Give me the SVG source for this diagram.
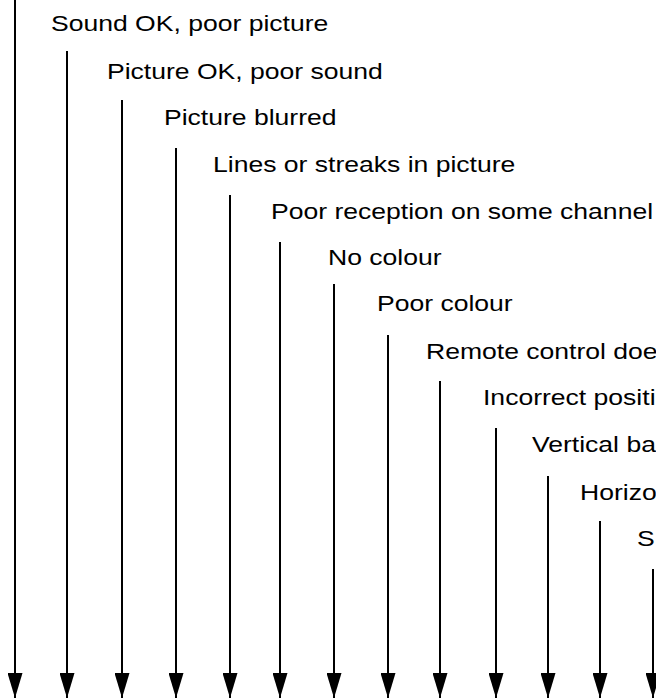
<svg xmlns="http://www.w3.org/2000/svg" width="656" height="699" viewBox="0 0 656 699">
<style>
.lbl{font-family:"Liberation Sans",Arial,Helvetica,sans-serif;font-size:22.5px;fill:#000}
.ln{stroke:#000;stroke-width:2;fill:none;marker-end:url(#ah)}
</style>
<defs>
<marker id="ah" markerUnits="userSpaceOnUse" viewBox="0 0 25 15" refX="25" refY="7.5" markerWidth="25" markerHeight="15" orient="auto">
<path d="M0,0 L25,7.5 L0,15 z" fill="#000"/>
</marker>
</defs>
<rect width="656" height="699" fill="#fff"/>
<g id="connectors">
<line class="ln" x1="15" y1="0" x2="15" y2="698"/>
<line class="ln" x1="67" y1="51" x2="67" y2="698"/>
<line class="ln" x1="122" y1="100" x2="122" y2="698"/>
<line class="ln" x1="176" y1="148" x2="176" y2="698"/>
<line class="ln" x1="230" y1="195" x2="230" y2="698"/>
<line class="ln" x1="280" y1="242" x2="280" y2="698"/>
<line class="ln" x1="334" y1="284" x2="334" y2="698"/>
<line class="ln" x1="388" y1="335" x2="388" y2="698"/>
<line class="ln" x1="440" y1="381" x2="440" y2="698"/>
<line class="ln" x1="496" y1="428" x2="496" y2="698"/>
<line class="ln" x1="548" y1="476" x2="548" y2="698"/>
<line class="ln" x1="600" y1="521" x2="600" y2="698"/>
<line class="ln" x1="653" y1="569" x2="653" y2="698"/>
</g>
<g id="n1"><text class="lbl" transform="translate(51,31) scale(1.18,1)">Sound OK, poor picture</text></g>
<g id="n2"><text class="lbl" transform="translate(107,79) scale(1.18,1)">Picture OK, poor sound</text></g>
<g id="n3"><text class="lbl" transform="translate(164,125) scale(1.18,1)">Picture blurred</text></g>
<g id="n4"><text class="lbl" transform="translate(213,172) scale(1.18,1)">Lines or streaks in picture</text></g>
<g id="n5"><text class="lbl" transform="translate(271,219) scale(1.18,1)">Poor reception on some channel</text></g>
<g id="n6"><text class="lbl" transform="translate(328,265) scale(1.18,1)">No colour</text></g>
<g id="n7"><text class="lbl" transform="translate(377,311) scale(1.18,1)">Poor colour</text></g>
<g id="n8"><text class="lbl" transform="translate(426,359) scale(1.18,1)">Remote control doe</text></g>
<g id="n9"><text class="lbl" transform="translate(483,405) scale(1.18,1)">Incorrect positi</text></g>
<g id="n10"><text class="lbl" transform="translate(532,452) scale(1.18,1)">Vertical ba</text></g>
<g id="n11"><text class="lbl" transform="translate(580,500) scale(1.18,1)">Horizo</text></g>
<g id="n12"><text class="lbl" transform="translate(637,546) scale(1.18,1)">S</text></g>
</svg>
